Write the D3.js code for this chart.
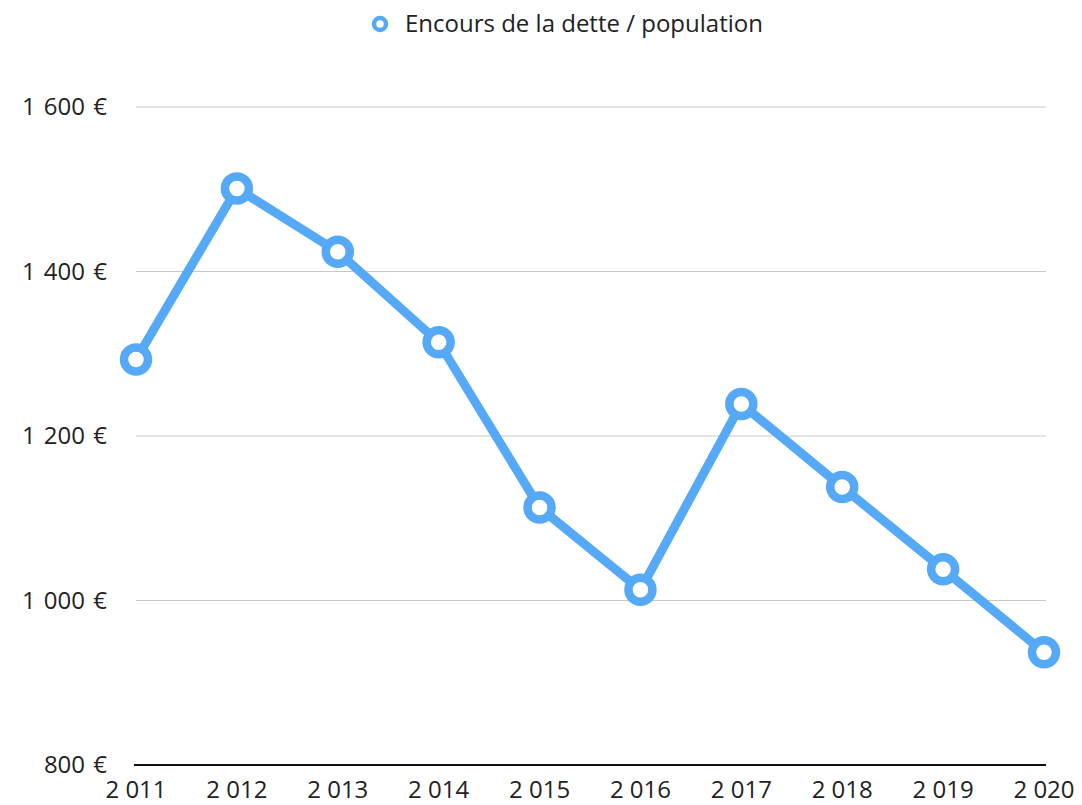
<!DOCTYPE html>
<html><head><meta charset="utf-8">
<script src="https://cdn.jsdelivr.net/npm/d3@7/dist/d3.min.js"></script>
<style>body{margin:0;background:#fff;}svg{display:block;font-family:"Open Sans","Noto Sans",sans-serif;}</style>
</head><body>
<svg id="c" width="1082" height="805"></svg>
<script>
const years = ["2 011","2 012","2 013","2 014","2 015","2 016","2 017","2 018","2 019","2 020"];
const values = [1293, 1501, 1424, 1314, 1113, 1013, 1239, 1138, 1038, 937];
const yTicks = [800, 1000, 1200, 1400, 1600];
const seriesName = "Encours de la dette / population";
const color = "#55a9f7";

const svg = d3.select("#c");
const x = d3.scalePoint().domain(years).range([136, 1044]).padding(0);
const y = d3.scaleLinear().domain([800, 1600]).range([765, 107]);
const fmt = v => d3.format(",")(v).replace(/,/g, " ") + " €";

svg.append("g").selectAll("line").data(yTicks.filter(d => d > 800)).join("line")
  .attr("x1", 136).attr("x2", 1046)
  .attr("y1", d => y(d)).attr("y2", d => y(d))
  .attr("stroke", "#c8c8c8").attr("stroke-width", 1);

svg.append("g").selectAll("text").data(yTicks).join("text")
  .attr("x", 107).attr("y", d => y(d)).attr("dy", "0.35em")
  .attr("text-anchor", "end").attr("font-size", 24).attr("fill", "#222")
  .attr("word-spacing", 2)
  .text(fmt);

svg.append("line").attr("x1", 134).attr("x2", 1046).attr("y1", 765).attr("y2", 765)
  .attr("stroke", "#111").attr("stroke-width", 2);

svg.append("g").selectAll("text").data(years).join("text")
  .attr("x", d => x(d)).attr("y", 798)
  .attr("text-anchor", "middle").attr("font-size", 24).attr("fill", "#222")
  .text(d => d);

svg.append("path").datum(values)
  .attr("d", d3.line().x((d, i) => x(years[i])).y(d => y(d)))
  .attr("fill", "none").attr("stroke", color).attr("stroke-width", 9)
  .attr("stroke-linejoin", "round");

svg.append("g").selectAll("circle").data(values).join("circle")
  .attr("cx", (d, i) => x(years[i])).attr("cy", d => y(d)).attr("r", 12)
  .attr("fill", "#fff").attr("stroke", color).attr("stroke-width", 8.5);

const lg = svg.append("g");
lg.append("circle").attr("cx", 380).attr("cy", 24).attr("r", 6)
  .attr("fill", "#fff").attr("stroke", color).attr("stroke-width", 4.5);
lg.append("text").attr("x", 405).attr("y", 24).attr("dy", "0.35em")
  .attr("font-size", 24).attr("fill", "#222").text(seriesName);
</script>
</body></html>
